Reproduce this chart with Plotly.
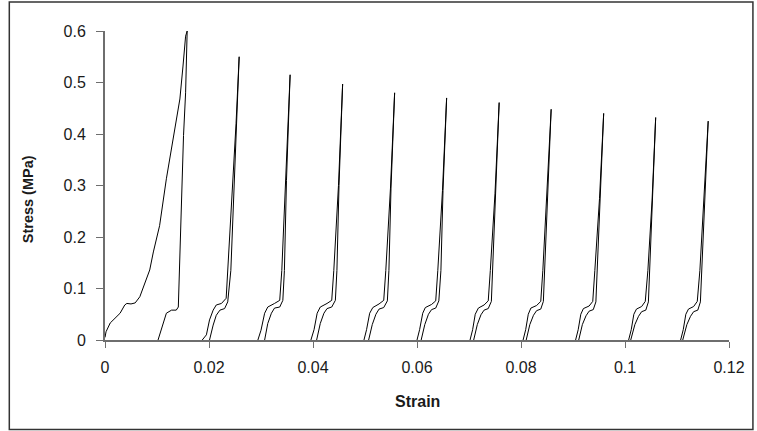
import plotly.graph_objects as go

# ---------------- data ----------------
# Cycle 1
c1_load_strain = [0.0000, 0.0002, 0.0010, 0.0019, 0.0029, 0.0038, 0.0042, 0.0050, 0.0058, 0.0067,
                  0.0077, 0.0086, 0.0093, 0.0105, 0.0118, 0.0131, 0.0144, 0.0150, 0.0155, 0.0158]
c1_load_stress = [0.005, 0.016, 0.033, 0.042, 0.052, 0.068, 0.071, 0.070, 0.072, 0.084,
                  0.110, 0.136, 0.171, 0.222, 0.313, 0.390, 0.468, 0.532, 0.590, 0.600]
c1_unload_strain = [0.0158, 0.0155, 0.0151, 0.0148, 0.0145, 0.0144, 0.0141, 0.0137, 0.0128, 0.0118, 0.0112, 0.0102]
c1_unload_stress = [0.600, 0.480, 0.397, 0.300, 0.171, 0.135, 0.064, 0.058, 0.058, 0.052, 0.032, 0.000]

# Cycles 2..11 : loading branch (left line) and unloading branch (right line)
load_strain = [
    [0.0187, 0.0195, 0.0201, 0.0208, 0.0214, 0.0224, 0.0233, 0.0236, 0.0246, 0.0252, 0.0258],
    [0.0294, 0.0300, 0.0307, 0.0313, 0.0326, 0.0336, 0.0340, 0.0348, 0.0356],
    [0.0396, 0.0402, 0.0408, 0.0414, 0.0427, 0.0436, 0.0440, 0.0449, 0.0457],
    [0.0498, 0.0503, 0.0509, 0.0515, 0.0527, 0.0536, 0.0540, 0.0549, 0.0557],
    [0.0600, 0.0605, 0.0611, 0.0616, 0.0628, 0.0636, 0.0640, 0.0649, 0.0657],
    [0.0702, 0.0707, 0.0712, 0.0718, 0.0729, 0.0737, 0.0741, 0.0750, 0.0758],
    [0.0804, 0.0809, 0.0814, 0.0819, 0.0830, 0.0838, 0.0842, 0.0850, 0.0858],
    [0.0905, 0.0910, 0.0915, 0.0920, 0.0931, 0.0938, 0.0942, 0.0951, 0.0959],
    [0.1007, 0.1012, 0.1017, 0.1022, 0.1032, 0.1039, 0.1044, 0.1052, 0.1059],
    [0.1107, 0.1112, 0.1117, 0.1122, 0.1132, 0.1139, 0.1144, 0.1152, 0.1160],
]
load_stress = [
    [0.000, 0.010, 0.039, 0.058, 0.068, 0.071, 0.081, 0.135, 0.297, 0.420, 0.550],
    [0.000, 0.019, 0.052, 0.064, 0.071, 0.077, 0.135, 0.310, 0.515],
    [0.000, 0.020, 0.052, 0.064, 0.071, 0.077, 0.135, 0.300, 0.497],
    [0.000, 0.020, 0.052, 0.063, 0.070, 0.077, 0.135, 0.295, 0.480],
    [0.000, 0.020, 0.052, 0.063, 0.069, 0.076, 0.135, 0.290, 0.470],
    [0.000, 0.020, 0.050, 0.062, 0.068, 0.076, 0.135, 0.285, 0.461],
    [0.000, 0.020, 0.050, 0.062, 0.067, 0.075, 0.135, 0.280, 0.448],
    [0.000, 0.020, 0.050, 0.061, 0.066, 0.075, 0.135, 0.275, 0.440],
    [0.000, 0.020, 0.050, 0.060, 0.065, 0.075, 0.135, 0.270, 0.432],
    [0.000, 0.020, 0.050, 0.060, 0.065, 0.075, 0.135, 0.268, 0.425],
]
unload_strain = [
    [0.0258, 0.0253, 0.0247, 0.0242, 0.0236, 0.0230, 0.0221, 0.0214, 0.0208, 0.0201],
    [0.0356, 0.0349, 0.0345, 0.0342, 0.0336, 0.0326, 0.0320, 0.0313, 0.0307],
    [0.0457, 0.0450, 0.0446, 0.0443, 0.0436, 0.0427, 0.0421, 0.0414, 0.0407],
    [0.0557, 0.0550, 0.0546, 0.0543, 0.0536, 0.0527, 0.0521, 0.0514, 0.0507],
    [0.0657, 0.0650, 0.0646, 0.0642, 0.0636, 0.0628, 0.0622, 0.0615, 0.0608],
    [0.0758, 0.0751, 0.0746, 0.0743, 0.0737, 0.0729, 0.0723, 0.0716, 0.0709],
    [0.0858, 0.0851, 0.0846, 0.0843, 0.0838, 0.0830, 0.0824, 0.0817, 0.0810],
    [0.0959, 0.0952, 0.0947, 0.0944, 0.0939, 0.0931, 0.0925, 0.0918, 0.0911],
    [0.1059, 0.1053, 0.1047, 0.1045, 0.1040, 0.1032, 0.1026, 0.1019, 0.1011],
    [0.1160, 0.1153, 0.1147, 0.1145, 0.1140, 0.1132, 0.1126, 0.1119, 0.1111],
]
unload_stress = [
    [0.550, 0.420, 0.297, 0.135, 0.074, 0.061, 0.058, 0.048, 0.029, 0.000],
    [0.515, 0.310, 0.135, 0.077, 0.064, 0.062, 0.052, 0.032, 0.000],
    [0.497, 0.300, 0.135, 0.077, 0.064, 0.061, 0.052, 0.032, 0.000],
    [0.480, 0.295, 0.135, 0.076, 0.063, 0.060, 0.050, 0.030, 0.000],
    [0.470, 0.290, 0.135, 0.076, 0.062, 0.059, 0.050, 0.030, 0.000],
    [0.461, 0.285, 0.135, 0.075, 0.061, 0.058, 0.049, 0.030, 0.000],
    [0.448, 0.280, 0.135, 0.075, 0.060, 0.057, 0.048, 0.030, 0.000],
    [0.440, 0.275, 0.135, 0.074, 0.059, 0.056, 0.047, 0.030, 0.000],
    [0.432, 0.270, 0.135, 0.074, 0.058, 0.055, 0.046, 0.030, 0.000],
    [0.425, 0.268, 0.135, 0.074, 0.058, 0.055, 0.046, 0.030, 0.000],
]

x_ticks = [0, 0.02, 0.04, 0.06, 0.08, 0.1, 0.12]
x_tick_labels = ["0", "0.02", "0.04", "0.06", "0.08", "0.1", "0.12"]
y_ticks = [0, 0.1, 0.2, 0.3, 0.4, 0.5, 0.6]
y_tick_labels = ["0", "0.1", "0.2", "0.3", "0.4", "0.5", "0.6"]

# ---------------- figure ----------------
LINE = dict(color="black", width=1)
fig = go.Figure()
fig.add_trace(go.Scatter(x=c1_load_strain, y=c1_load_stress, mode="lines", line=LINE, hoverinfo="skip"))
fig.add_trace(go.Scatter(x=c1_unload_strain, y=c1_unload_stress, mode="lines", line=LINE, hoverinfo="skip"))
for xs, ys in zip(load_strain, load_stress):
    fig.add_trace(go.Scatter(x=xs, y=ys, mode="lines", line=LINE, hoverinfo="skip"))
for xs, ys in zip(unload_strain, unload_stress):
    fig.add_trace(go.Scatter(x=xs, y=ys, mode="lines", line=LINE, hoverinfo="skip"))

W, H = 757, 431
L, R, T, B = 105, 26, 31, 91
pw, ph = W - L - R, H - T - B

def px_x(p):
    return (p - L) / pw

def px_y(p):
    return (H - B - p) / ph

FONT = "Liberation Sans, Arial, sans-serif"
TXT = "#1a1a1a"
fig.update_layout(
    width=W, height=H,
    margin=dict(l=L, r=R, t=T, b=B),
    paper_bgcolor="white", plot_bgcolor="white",
    showlegend=False,
    font=dict(family=FONT, size=16, color=TXT),
    xaxis=dict(range=[0, 0.12], tickvals=x_ticks, ticktext=x_tick_labels,
               showgrid=False, zeroline=False, showline=True, linecolor="#6e6e6e", linewidth=2,
               ticks="outside", ticklen=6, tickwidth=1, tickcolor="#6e6e6e",
               ticklabelstandoff=6, tickfont=dict(family=FONT, size=16, color=TXT)),
    yaxis=dict(range=[0, 0.6], tickvals=y_ticks, ticktext=y_tick_labels,
               showgrid=False, zeroline=False, showline=True, linecolor="#6e6e6e", linewidth=2,
               ticks="outside", ticklen=7, tickwidth=1, tickcolor="#6e6e6e",
               ticklabelstandoff=7, tickfont=dict(family=FONT, size=16, color=TXT)),
    annotations=[
        dict(text="<b>Strain</b>", xref="paper", yref="paper", x=px_x(418), y=px_y(401),
             xanchor="center", yanchor="middle", showarrow=False,
             font=dict(family=FONT, size=16, color=TXT)),
        dict(text="<b>Stress (MPa)</b>", xref="paper", yref="paper", x=px_x(28), y=px_y(199),
             xanchor="center", yanchor="middle", showarrow=False, textangle=-90,
             font=dict(family=FONT, size=14.5, color=TXT)),
    ],
    shapes=[
        dict(type="rect", xref="paper", yref="paper",
             x0=px_x(9), x1=px_x(755), y0=px_y(429.5), y1=px_y(2),
             line=dict(color="#333", width=1.5), fillcolor="rgba(0,0,0,0)", layer="below"),
    ],
)

fig.write_html("out.html",
               config={"displayModeBar": False, "staticPlot": True},
               post_script="document.body.style.margin='0';document.body.style.overflow='hidden';")
